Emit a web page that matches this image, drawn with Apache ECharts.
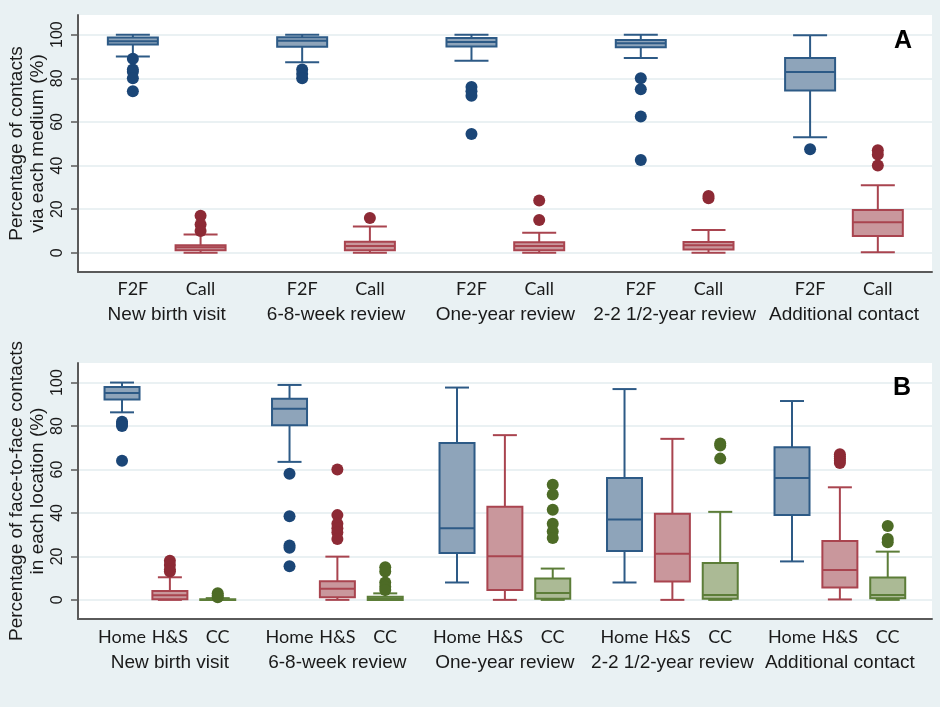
<!DOCTYPE html>
<html>
<head>
<meta charset="utf-8">
<script src="https://cdn.jsdelivr.net/npm/echarts@6/dist/echarts.min.js"></script>
<style>
  html, body { margin: 0; padding: 0; background: #e9f1f3; }
  #chart { width: 940px; height: 707px; }
</style>
</head>
<body>
<div id="chart"></div>
<script>
const visits = ['New birth visit', '6-8-week review', 'One-year review', '2-2 1/2-year review', 'Additional contact'];
const yTicks = [0, 20, 40, 60, 80, 100];

// panel A - [min, q1, median, q3, max] per visit
const mediums = ['F2F', 'Call'];
const f2fBox = [
  [90, 95.5, 97, 98.7, 100],
  [87.3, 94.5, 97.2, 98.8, 100],
  [88, 94.6, 96.6, 98.5, 100],
  [89.3, 94.2, 96, 97.5, 100],
  [53, 74.4, 82.9, 89.3, 99.7]
];
const f2fOut = [
  [89, 84, 83, 80, 74],
  [84, 82, 80],
  [76, 74, 72, 54.5],
  [80, 75, 62.5, 42.5],
  [47.5]
];
const callBox = [
  [0, 1.2, 2.5, 3.5, 8.4],
  [0, 1.2, 3.1, 5.1, 12],
  [0, 1.2, 3.1, 4.8, 9.2],
  [0, 1.5, 3.5, 5, 10.4],
  [0.3, 7.7, 14, 19.6, 31]
];
const callOut = [
  [17, 13, 10],
  [16],
  [24, 15],
  [26, 25],
  [47, 45, 40]
];

// panel B
const places = ['Home', 'H&S', 'CC'];
const homeBox = [
  [86.3, 92.2, 95.2, 98, 100],
  [63.5, 80.4, 87.9, 92.6, 98.9],
  [8, 21.6, 33, 72.2, 97.7],
  [8, 22.5, 37, 56.1, 97],
  [17.7, 39.1, 56.1, 70.2, 91.5]
];
const homeOut = [
  [82, 81, 80, 64],
  [58, 38.5, 25, 24, 15.5],
  [],
  [],
  []
];
const hsBox = [
  [0, 0.3, 2.1, 4.1, 10.4],
  [0, 1.2, 5.1, 8.6, 19.9],
  [0, 4.5, 20.1, 42.8, 75.8],
  [0, 8.4, 21.2, 39.6, 74.1],
  [0.2, 5.7, 13.7, 27.1, 51.8]
];
const hsOut = [
  [18, 16, 14, 13],
  [60, 39, 35, 33, 31, 28],
  [],
  [],
  [67, 66, 65, 64, 63]
];
const ccBox = [
  [0, 0, 0, 0.3, 0.8],
  [0, 0, 0.6, 1.4, 3],
  [0, 0.5, 3.2, 9.8, 14.4],
  [0, 0.5, 2.2, 17, 40.5],
  [0, 0.8, 2.2, 10.3, 22.2]
];
const ccOut = [
  [3, 2, 1.2],
  [15, 13, 8, 6, 4.5],
  [53, 48.5, 41.5, 35, 31.5, 28.5],
  [72, 71, 65],
  [34, 28, 26.5]
];

const colors = [
  { fill: '#8ea4ba', line: '#2d5a86', dot: '#1b4677' },
  { fill: '#c9979c', line: '#a9444f', dot: '#8d2a35' },
  { fill: '#abba95', line: '#5c7d38', dot: '#4d6b26' }
];

// slot positions: panel A groups are 5 units wide, panel B 7 units
const posA = (g, k) => 5 * g + 1 + 2 * k;
const posB = (g, k) => 7 * g + 1 + 2 * k;

function boxRenderer(boxW, capW, c) {
  return function (params, api) {
    const x = api.value(0);
    const p = [1, 2, 3, 4, 5].map(i => api.coord([x, api.value(i)]));
    const cx = p[0][0];
    const ls = { stroke: c.line, lineWidth: 2 };
    return {
      type: 'group',
      children: [
        { type: 'line', shape: { x1: cx, y1: p[4][1], x2: cx, y2: p[3][1] }, style: ls },
        { type: 'line', shape: { x1: cx, y1: p[1][1], x2: cx, y2: p[0][1] }, style: ls },
        { type: 'line', shape: { x1: cx - capW / 2, y1: p[4][1], x2: cx + capW / 2, y2: p[4][1] }, style: ls },
        { type: 'line', shape: { x1: cx - capW / 2, y1: p[0][1], x2: cx + capW / 2, y2: p[0][1] }, style: ls },
        { type: 'rect', shape: { x: cx - boxW / 2, y: p[3][1], width: boxW, height: p[1][1] - p[3][1] },
          style: { fill: c.fill, stroke: c.line, lineWidth: 2 } },
        { type: 'line', shape: { x1: cx - boxW / 2, y1: p[2][1], x2: cx + boxW / 2, y2: p[2][1] }, style: ls }
      ]
    };
  };
}

function boxSeries(panel, stats, k, pos, boxW, capW) {
  return {
    type: 'custom',
    xAxisIndex: panel * 2,
    yAxisIndex: panel,
    encode: { x: 0, y: [1, 2, 3, 4, 5] },
    clip: false,
    silent: true,
    renderItem: boxRenderer(boxW, capW, colors[k]),
    data: stats.map((s, g) => [pos(g, k)].concat(s))
  };
}

function outSeries(panel, outs, k, pos) {
  const data = [];
  outs.forEach((vals, g) => vals.forEach(v => data.push([pos(g, k), v])));
  return {
    type: 'scatter',
    xAxisIndex: panel * 2,
    yAxisIndex: panel,
    symbol: 'circle',
    symbolSize: 12,
    silent: true,
    itemStyle: { color: colors[k].dot, opacity: 1 },
    data: data
  };
}

const txt = '#1a1a1a';
const axisCol = '#5a5a5a';

function xAxes(gridIndex, min, max, subLabels, pos, margins) {
  const subMap = {};
  const subVals = [];
  visits.forEach((v, g) => subLabels.forEach((s, k) => {
    subMap[pos(g, k)] = s;
    subVals.push(pos(g, k));
  }));
  const midK = (subLabels.length - 1) / 2;
  const grpMap = {};
  const grpVals = [];
  visits.forEach((v, g) => {
    grpMap[pos(g, midK)] = v;
    grpVals.push(pos(g, midK));
  });
  return [
    {
      type: 'value', gridIndex, min, max, position: 'bottom',
      axisLine: { show: true, onZero: false, lineStyle: { color: axisCol, width: 2 } },
      axisTick: { show: false },
      splitLine: { show: false },
      axisLabel: {
        customValues: subVals,
        formatter: v => subMap[Math.round(v)] || '',
        fontFamily: 'Lato', fontSize: 18, color: txt, margin: margins[0]
      }
    },
    {
      type: 'value', gridIndex, min, max, position: 'bottom',
      axisLine: { show: false, onZero: false },
      axisTick: { show: false },
      splitLine: { show: false },
      axisLabel: {
        customValues: grpVals,
        formatter: v => grpMap[Math.round(v)] || '',
        fontFamily: 'Liberation Sans', fontSize: 19, color: txt, margin: margins[1]
      }
    }
  ];
}

function yAxis(gridIndex, name) {
  return {
    type: 'value', gridIndex, min: -8.8, max: 109,
    name: name, nameLocation: 'middle', nameGap: 30, nameRotate: 90, nameMoveOverlap: false,
    nameTextStyle: { fontFamily: 'Liberation Sans', fontSize: 19, lineHeight: 21, color: txt },
    axisLine: { show: true, onZero: false, lineStyle: { color: axisCol, width: 2 } },
    axisTick: { show: true, customValues: yTicks, length: 7, lineStyle: { color: axisCol, width: 1.5 } },
    axisLabel: {
      customValues: yTicks, rotate: 90, margin: 12,
      fontFamily: 'Liberation Sans', fontSize: 16, color: txt
    },
    splitLine: { show: true, lineStyle: { color: '#e3ecef', width: 1.5 } }
  };
}

const chart = echarts.init(document.getElementById('chart'));
chart.setOption({
  backgroundColor: '#e9f1f3',
  animation: false,
  grid: [
    { left: 78, right: 8, top: 15, height: 257, show: true, backgroundColor: '#ffffff', borderWidth: 0,
      outerBoundsMode: 'none' },
    { left: 78, right: 8, top: 363, height: 256, show: true, backgroundColor: '#ffffff', borderWidth: 0,
      outerBoundsMode: 'none' }
  ],
  xAxis: [].concat(
    xAxes(0, -0.62, 24.6, mediums, posA, [8, 33]),
    xAxes(1, -0.84, 34.85, places, posB, [9, 34])
  ),
  yAxis: [
    yAxis(0, 'Percentage of contacts\nvia each medium (%)'),
    yAxis(1, 'Percentage of face-to-face contacts\nin each location (%)')
  ],
  graphic: [
    { type: 'text', left: 894, top: 29, z: 100, style: { text: 'A', font: 'bold 25px Liberation Sans', fill: '#000' } },
    { type: 'text', left: 893, top: 376, z: 100, style: { text: 'B', font: 'bold 25px Liberation Sans', fill: '#000' } }
  ],
  series: [
    boxSeries(0, f2fBox, 0, posA, 50, 34),
    boxSeries(0, callBox, 1, posA, 50, 34),
    outSeries(0, f2fOut, 0, posA),
    outSeries(0, callOut, 1, posA),
    boxSeries(1, homeBox, 0, posB, 35, 24),
    boxSeries(1, hsBox, 1, posB, 35, 24),
    boxSeries(1, ccBox, 2, posB, 35, 24),
    outSeries(1, homeOut, 0, posB),
    outSeries(1, hsOut, 1, posB),
    outSeries(1, ccOut, 2, posB)
  ]
});
</script>
</body>
</html>
